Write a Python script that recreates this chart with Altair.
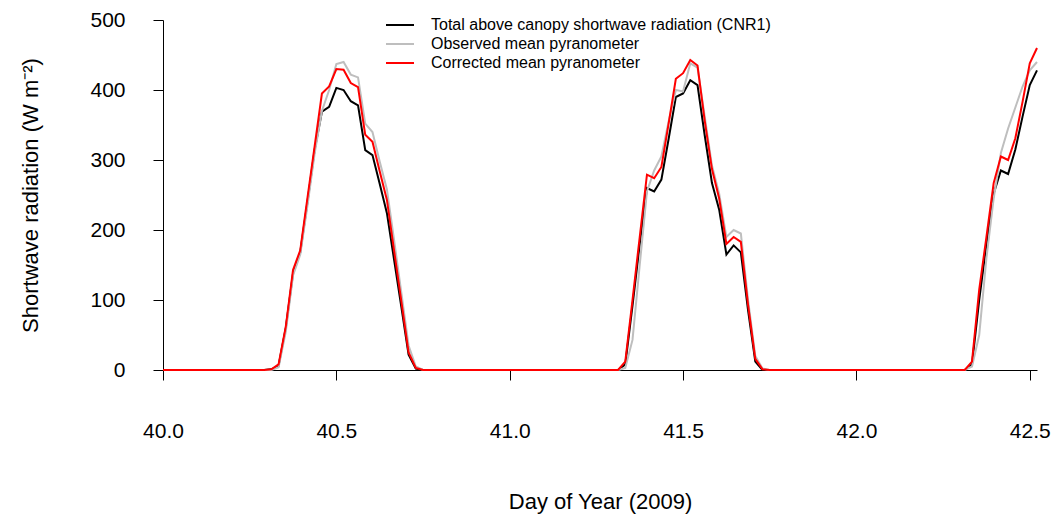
import altair as alt
import pandas as pd

# 30-minute samples, day of year 40.0 .. 42.5208
STEPS_PER_DAY = 48
DAY_START = 40

series_names = [
    "Total above canopy shortwave radiation (CNR1)",
    "Observed mean pyranometer",
    "Corrected mean pyranometer",
]
series_colors = ["#000000", "#BEBEBE", "#FF0000"]

# Day 40 (half-hour index 15..35 are daylight, rest are zero)
cnr1_d40 = [0] * 15 + [1, 6, 60, 138, 168, 240, 315, 369, 376, 403, 400, 384, 378, 314, 307, 266, 224, 157, 90, 22, 2] + [0] * 12
obs_d40 = [0] * 15 + [0, 4, 55, 135, 165, 235, 310, 370, 400, 437, 440, 422, 418, 352, 340, 298, 258, 185, 110, 35, 5] + [0] * 12
cor_d40 = [0] * 15 + [1, 8, 62, 143, 171, 246, 320, 395, 405, 430, 429, 410, 404, 336, 326, 284, 243, 170, 98, 25, 3] + [0] * 12

# Day 41
cnr1_d41 = [0] * 15 + [0, 8, 92, 180, 260, 255, 272, 330, 390, 395, 414, 407, 335, 267, 229, 165, 178, 168, 85, 12, 0] + [0] * 12
obs_d41 = [0] * 15 + [0, 3, 43, 150, 255, 285, 305, 355, 400, 398, 438, 432, 362, 292, 252, 190, 200, 195, 100, 20, 2] + [0] * 12
cor_d41 = [0] * 15 + [0, 12, 100, 190, 279, 274, 290, 352, 416, 424, 443, 435, 356, 287, 245, 180, 190, 183, 93, 16, 1] + [0] * 12

# Day 42 (until 42.5208)
cnr1_d42 = [0] * 15 + [0, 8, 100, 180, 252, 285, 280, 315, 362, 407, 428]
obs_d42 = [0] * 15 + [0, 5, 50, 160, 245, 310, 345, 375, 405, 428, 440]
cor_d42 = [0] * 15 + [0, 12, 115, 190, 267, 305, 300, 331, 383, 438, 460]

cnr1 = cnr1_d40 + cnr1_d41 + cnr1_d42
obs = obs_d40 + obs_d41 + obs_d42
cor = cor_d40 + cor_d41 + cor_d42

x_ticks = [40.0, 40.5, 41.0, 41.5, 42.0, 42.5]
y_ticks = [0, 100, 200, 300, 400, 500]

rows = []
for name, vals in zip(series_names, [cnr1, obs, cor]):
    for i, v in enumerate(vals):
        rows.append({"doy": DAY_START + i / STEPS_PER_DAY, "value": v, "series": name})
df = pd.DataFrame(rows)
x_max = DAY_START + (len(cnr1) - 1) / STEPS_PER_DAY

FONT = "Liberation Sans"

x_enc = alt.X(
    "doy:Q",
    scale=alt.Scale(domain=[DAY_START, x_max], nice=False, zero=False),
    axis=alt.Axis(
        values=x_ticks, format=".1f", title="Day of Year (2009)", grid=False,
        tickSize=10, labelPadding=40, labelFontSize=21, labelFont=FONT,
        labelColor="black", tickColor="black", domainColor="black",
        titleFont=FONT, titleFontSize=22, titleFontWeight="normal", titleColor="black",
        titleY=131, titleBaseline="middle", labelFlush=False,
    ),
)
y_enc = alt.Y(
    "value:Q",
    scale=alt.Scale(domain=[0, 500], nice=False),
    axis=alt.Axis(
        values=y_ticks, title="Shortwave radiation (W m⁻²)", grid=False,
        tickSize=10, labelPadding=28, labelFontSize=21, labelFont=FONT,
        labelColor="black", tickColor="black", domainColor="black",
        titleFont=FONT, titleFontSize=22, titleFontWeight="normal", titleColor="black",
        titleX=-133, titleY=175, titleAngle=-90, titleBaseline="middle", titleAlign="center",
        labelFlush=False,
    ),
)
color_enc = alt.Color(
    "series:N",
    scale=alt.Scale(domain=series_names, range=series_colors),
    legend=alt.Legend(
        title=None, orient="none", legendX=229, legendY=-3,
        symbolType="M-2,0H2", symbolSize=196, symbolStrokeWidth=2,
        labelFont=FONT, labelFontSize=16, labelColor="black", labelOffset=23,
        rowPadding=3, padding=0, labelLimit=600,
    ),
)

layers = []
for name in series_names:
    layers.append(
        alt.Chart(df)
        .transform_filter(alt.datum.series == name)
        .mark_line(strokeWidth=2)
        .encode(x=x_enc, y=y_enc, color=color_enc, order=alt.Order("doy:Q"))
    )

chart = (
    alt.layer(*layers)
    .properties(
        width=874, height=350, autosize="none",
        padding={"left": 163, "top": 20, "right": 24, "bottom": 146},
        background="white",
    )
    .configure_view(stroke=None)
)

chart.save("out.html", embed_options={"renderer": "svg", "actions": False})
